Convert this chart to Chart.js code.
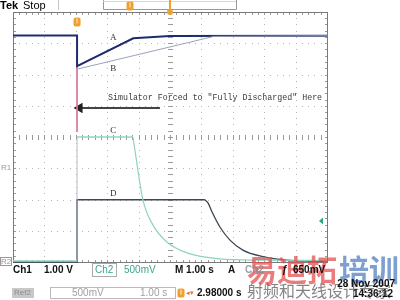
<!DOCTYPE html>
<html><head><meta charset="utf-8">
<script src="https://cdn.jsdelivr.net/npm/chart.js@4.4.1/dist/chart.umd.min.js"></script>
<style>html,body{margin:0;padding:0;background:#fff;}canvas{display:block;}</style>
</head><body>
<canvas id="c" width="400" height="300"></canvas>
<script>
// Time in divisions (1.00 s/div), amplitude in divisions
const timeA = [0, 2.04, 2.04, 3.83, 5.0, 10];
const voltA = [7.25, 7.25, 6.27, 7.16, 7.23, 7.24];
const timeB = [2.04, 6.4, 10];
const voltB = [6.17, 7.22, 7.24];
const cStepTime = [0, 2.04, 2.04, 3.82];
const cStepVolt = [0.03, 0.03, 4.0, 4.0];
const cDecayTime = [3.82, 4.14, 4.46, 4.90, 5.54, 6.59, 7.87, 10];
const cDecayVolt = [4.0, 1.98, 1.18, 0.64, 0.29, 0.10, 0.06, 0.05];
const dStepTime = [0, 2.04, 2.04, 6.11];
const dStepVolt = [0, 0, 1.99, 1.99];
const dDecayTime = [6.11, 6.21, 6.34, 6.59, 6.91, 7.32, 7.96, 8.73, 9.78, 10];
const dDecayVolt = [1.99, 1.89, 1.6, 1.12, 0.70, 0.38, 0.17, 0.06, 0.03, 0.03];
const markerTime = [2.04, 2.04];
const markerVolt = [6.27, 4.16];
const arrowTime = [4.68, 2.12];
const arrowVolt = [4.93, 4.93];
const traceLabels = ['A', 'B', 'C', 'D'];
const labelTime = [3.19, 3.19, 3.19, 3.19];
const labelVolt = [7.17, 6.2, 4.2, 2.2];
const noteText = 'Simulator Forced to "Fully Discharged" Here';

const pts = (xs, ys) => xs.map((x, i) => ({x, y: ys[i]}));

const scopePlugin = {
  id: 'scope',
  beforeDatasetsDraw(chart) {
    const ctx = chart.ctx, sx = chart.scales.x, sy = chart.scales.y;
    const X = v => sx.getPixelForValue(v), Y = v => sy.getPixelForValue(v);
    ctx.save();
    ctx.fillStyle = '#b4b4b4';
    for (let i = 1; i < 10; i++) {
      for (let k = 0; k <= 40; k++) {
        ctx.fillRect(Math.round(X(i)), Math.round(Y(k * 0.2)), 1, 1);
      }
    }
    for (let j = 1; j < 8; j++) {
      for (let k = 0; k <= 50; k++) {
        ctx.fillRect(Math.round(X(k * 0.2)), Math.round(Y(j)), 1, 1);
      }
    }
    ctx.fillStyle = '#9a9a9a';
    for (let k = 0; k <= 50; k++) {
      ctx.fillRect(Math.round(X(k * 0.2)), Math.round(Y(4)) - 2, 1, 5);
    }
    for (let k = 0; k <= 40; k++) {
      ctx.fillRect(Math.round(X(5)) - 2, Math.round(Y(k * 0.2)), 5, 1);
    }
    for (let k = 0; k <= 50; k++) {
      ctx.fillRect(Math.round(X(k * 0.2)), Math.round(Y(8)), 1, 3);
      ctx.fillRect(Math.round(X(k * 0.2)), Math.round(Y(0)) - 2, 1, 3);
    }
    for (let k = 0; k <= 40; k++) {
      ctx.fillRect(Math.round(X(0)), Math.round(Y(k * 0.2)), 3, 1);
      ctx.fillRect(Math.round(X(10)) - 2, Math.round(Y(k * 0.2)), 3, 1);
    }
    ctx.strokeStyle = '#7a7a7a';
    ctx.lineWidth = 1;
    ctx.strokeRect(Math.round(X(0)) + 0.5, Math.round(Y(8)) + 0.5, Math.round(X(10) - X(0)), Math.round(Y(0) - Y(8)));
    ctx.restore();
  },
  afterDraw(chart) {
    const ctx = chart.ctx, sx = chart.scales.x, sy = chart.scales.y;
    const X = v => sx.getPixelForValue(v), Y = v => sy.getPixelForValue(v);
    ctx.save();
    ctx.fillStyle = '#333';
    ctx.font = '9px "Liberation Serif"';
    ctx.textAlign = 'center'; ctx.textBaseline = 'middle';
    traceLabels.forEach((t, i) => ctx.fillText(t, X(labelTime[i]), Y(labelVolt[i])));
    ctx.font = '8.3px "Liberation Mono"';
    ctx.textAlign = 'left';
    ctx.fillStyle = '#3a3a3a';
    ctx.fillText(noteText, 108, Y(5.25));
    ctx.textBaseline = 'middle';
    ctx.fillStyle = '#000';
    ctx.font = 'bold 11px "Liberation Sans"';
    ctx.fillText('Tek', 0, 6);
    ctx.font = '11px "Liberation Sans"';
    ctx.fillText('Stop', 23, 6);
    ctx.strokeStyle = '#c8c8c8';
    ctx.beginPath(); ctx.moveTo(58.5, 0); ctx.lineTo(58.5, 10); ctx.stroke();
    ctx.strokeStyle = '#999';
    ctx.beginPath();
    ctx.moveTo(103.5, 0); ctx.lineTo(103.5, 9.5); ctx.lineTo(236.5, 9.5); ctx.lineTo(236.5, 0);
    ctx.stroke();
    ctx.strokeStyle = '#d8d8d8';
    ctx.beginPath(); ctx.moveTo(103, 1.5); ctx.lineTo(236, 1.5); ctx.stroke();
    const uMark = (x, y) => {
      ctx.fillStyle = '#f0a030';
      ctx.beginPath(); ctx.roundRect(x - 3.5, y - 4.5, 7, 9, 2); ctx.fill();
      ctx.fillStyle = '#fff3c0';
      ctx.fillRect(x - 0.5, y - 3.5, 1, 5);
    };
    uMark(130, 6);
    uMark(X(2.04), 22);
    ctx.fillStyle = '#f0a030';
    ctx.fillRect(X(5) - 1, 0, 2, 11);
    ctx.beginPath(); ctx.arc(X(5), 12, 3, 0, Math.PI * 2); ctx.fill();
    ctx.fillStyle = '#9a9a9a';
    ctx.font = '8px "Liberation Sans"';
    ctx.textAlign = 'left';
    ctx.fillText('R1', 1, 168);
    ctx.strokeStyle = '#999';
    ctx.strokeRect(0.5, 257.5, 11, 8);
    ctx.fillText('R2', 1, 262);
    ctx.fillStyle = '#2aa88a';
    ctx.beginPath(); ctx.moveTo(319, 221); ctx.lineTo(323, 217.5); ctx.lineTo(323, 224.5); ctx.closePath(); ctx.fill();
    ctx.textBaseline = 'alphabetic';
    ctx.font = 'bold 30px "Noto Sans CJK SC"';
    ctx.fillStyle = 'rgba(228,80,80,0.75)';
    ctx.fillText('易迪拓', 247, 281);
    ctx.fillStyle = 'rgba(70,120,190,0.7)';
    ctx.fillText('培训', 339, 281);
    ctx.textBaseline = 'middle';
    ctx.font = 'bold 10px "Liberation Sans"';
    ctx.fillStyle = '#111';
    ctx.fillText('Ch1', 13, 270);
    ctx.fillText('1.00 V', 44, 270);
    ctx.strokeStyle = '#aaa';
    ctx.strokeRect(92.5, 263.5, 24, 13);
    ctx.fillStyle = '#3aa58c';
    ctx.font = '10px "Liberation Sans"';
    ctx.fillText('Ch2', 95, 270);
    ctx.fillText('500mV', 124, 270);
    ctx.fillStyle = '#111';
    ctx.font = 'bold 10px "Liberation Sans"';
    ctx.fillText('M 1.00 s', 175, 270);
    ctx.fillText('A', 228, 270);
    ctx.fillStyle = 'rgba(120,140,150,0.8)';
    ctx.fillText('Ch2', 245, 270);
    ctx.fillStyle = '#111';
    ctx.fillText('\u0192', 282, 270);
    ctx.fillText('650mV', 293, 270);
    ctx.fillStyle = '#c8c8c8';
    ctx.fillRect(12, 288, 22, 10);
    ctx.fillStyle = '#8a8a8a';
    ctx.font = '8px "Liberation Sans"';
    ctx.fillText('Ref2', 14, 293);
    ctx.strokeStyle = '#bbb';
    ctx.strokeRect(50.5, 287.5, 125, 11);
    ctx.fillStyle = '#a0a0a0';
    ctx.font = '10px "Liberation Sans"';
    ctx.fillText('500mV', 72, 293);
    ctx.fillText('1.00 s', 140, 293);
    uMark(181, 293);
    ctx.fillStyle = '#e07030';
    ctx.font = '7px "Liberation Sans"';
    ctx.fillText('\u25C2\u25BE', 186, 293);
    ctx.font = '16px "Noto Sans CJK SC"';
    ctx.fillStyle = 'rgba(80,80,80,0.7)';
    ctx.fillText('射频和天线设计专家', 247, 291);
    ctx.fillStyle = '#111';
    ctx.font = 'bold 10px "Liberation Sans"';
    ctx.fillText('2.98000 s', 197, 293);
    ctx.textAlign = 'right';
    ctx.fillText('28 Nov 2007', 395, 284);
    ctx.fillText('14:36:12', 393, 294);
    ctx.restore();
  }
};

const line = (data, color, width, extra) => Object.assign({
  data, borderColor: color, backgroundColor: color, borderWidth: width,
  pointRadius: 0, showLine: true, tension: 0, fill: false, clip: 4
}, extra || {});

const vertical = c => c.p0.parsed.x === c.p1.parsed.x;

new Chart(document.getElementById('c'), {
  type: 'scatter',
  data: {
    datasets: [
      line(pts(cStepTime, cStepVolt), '#8fd6c4', 1.5, {
        segment: {borderColor: c => vertical(c) ? '#b8bcc4' : undefined, borderWidth: c => vertical(c) ? 1 : undefined}
      }),
      line(pts(cDecayTime, cDecayVolt), '#8fd2c2', 1.2, {cubicInterpolationMode: 'monotone'}),
      line(pts(dStepTime, dStepVolt), '#3c4652', 1.5),
      line(pts(dDecayTime, dDecayVolt), '#3c4652', 1.3, {cubicInterpolationMode: 'monotone'}),
      line(pts(timeB, voltB), '#9aa2b8', 1),
      line(pts(timeA, voltA), '#1e2c6e', 2),
      line(pts(markerTime, markerVolt), '#e07a98', 1),
      line(pts(arrowTime, arrowVolt), '#444', 2, {
        pointRadius: [0, 4], pointStyle: 'triangle', rotation: -90,
        pointBackgroundColor: '#222', pointBorderColor: '#222'
      })
    ]
  },
  options: {
    responsive: false, animation: false, devicePixelRatio: 1,
    layout: {padding: {left: 13, top: 12, right: 73, bottom: 38}},
    scales: {
      x: {type: 'linear', min: 0, max: 10, display: false},
      y: {type: 'linear', min: 0, max: 8, display: false}
    },
    plugins: {legend: {display: false}, tooltip: {enabled: false}}
  },
  plugins: [scopePlugin]
});
</script>
</body></html>
